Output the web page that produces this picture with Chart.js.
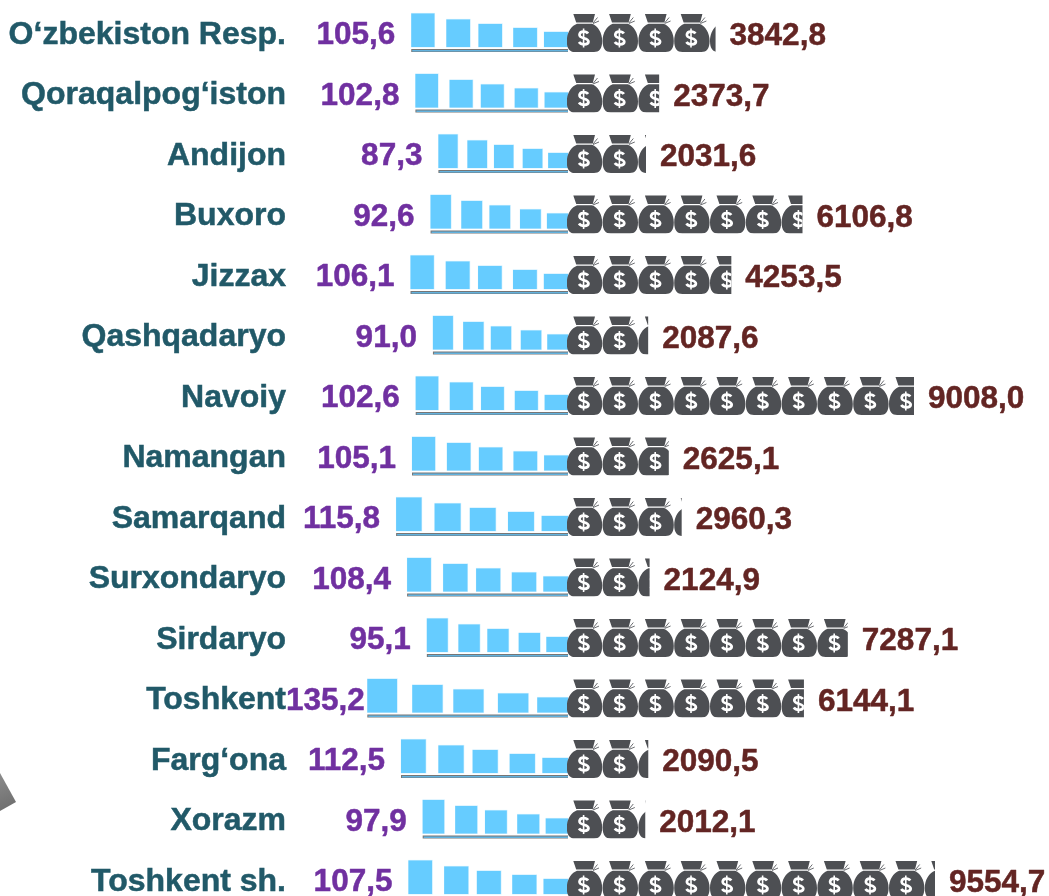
<!DOCTYPE html>
<html><head><meta charset="utf-8">
<style>html,body{margin:0;padding:0;background:#fff;overflow:hidden;width:1049px;height:896px}#w{width:1049px;height:896px;overflow:hidden}canvas{display:block}</style>
<script src="https://cdn.jsdelivr.net/npm/chart.js@4"></script>
</head><body><div id="w"><canvas id="c" width="1049" height="912"></canvas></div>
<script>
const regions = ["O‘zbekiston Resp.","Qoraqalpog‘iston","Andijon","Buxoro","Jizzax","Qashqadaryo","Navoiy","Namangan","Samarqand","Surxondaryo","Sirdaryo","Toshkent","Farg‘ona","Xorazm","Toshkent sh."];
const growth = [105.6,102.8,87.3,92.6,106.1,91.0,102.6,105.1,115.8,108.4,95.1,135.2,112.5,97.9,107.5];
const amount = [3842.8,2373.7,2031.6,6106.8,4253.5,2087.6,9008.0,2625.1,2960.3,2124.9,7287.1,6144.1,2090.5,2012.1,9554.7];

const FONT='bold 31.5px "Liberation Sans", Arial, sans-serif';
const fmt=v=>v.toFixed(1).replace('.',',');
const steps=[[0,.148,33.5],[.224,.375,27.5],[.429,.579,23],[.651,.802,19],[.847,1,15]];
const PITCH=35.8,TILE_H=38;
const bag=new Path2D("M6.3 0H28L25.8 8.6H9.2Z M10 9.8H25C31 12 35.2 19 35.2 27C35.2 35 32 38 27 38H8C3 38 -.2 35 -.2 27C-.2 19 4 12 10 9.8Z");
const tie=new Path2D("M26 9L30.5 3.5M26 9.5L32 7");
const dollar=new Path2D("M21 19.5C19.5 17 13 16.5 12.5 20.5C12 25.5 21.5 23 21.5 27.8C21 31.5 14 31 12 28");
const dollarBar=new Path2D("M16.6 14.5V33.5");
const picto={id:'picto',afterDatasetsDraw(ch){
  const g=ch.ctx;
  const L=ch.getDatasetMeta(0).data,R=ch.getDatasetMeta(1).data;
  g.save();
  const gr=g.createLinearGradient(0,775,14,808);gr.addColorStop(0,'#8a8a8a');gr.addColorStop(1,'#6e6e6e');
  g.fillStyle=gr;g.beginPath();g.moveTo(0,773);g.lineTo(16,802);g.lineTo(0,811);g.closePath();g.fill();
  L.forEach((e,i)=>{
    const top=e.y-19,len=e.base-e.x;
    steps.forEach(s=>{
      const a=e.x+len*s[0],b=e.x+len*s[1];
      g.fillStyle='#CDEEFF';g.fillRect(a-.2,top+33-s[2]-.6,b-a+.8,s[2]+1);
      g.fillStyle='#66CCFF';g.fillRect(a,top+33-s[2],b-a,s[2]);
    });
    g.fillStyle='#767676';g.fillRect(e.x,top+35,len,3);
    g.fillStyle='#62B2DE';g.fillRect(e.x+1,top+36,len-1,1.5);
  });
  R.forEach(e=>{
    const top=e.y-19,x0=e.base-1;
    g.save();g.beginPath();g.rect(x0,top-1,e.x-x0,TILE_H+1);g.clip();
    for(let x=x0;x<e.x;x+=PITCH){
      g.save();g.translate(x,top);
      g.fillStyle='#4D4F53';g.fill(bag);
      g.strokeStyle='#6a6c70';g.lineWidth=1;g.stroke(tie);
      g.strokeStyle='#fff';g.lineWidth=2.7;g.stroke(dollar);
      g.lineWidth=1.6;g.stroke(dollarBar);
      g.restore();
    }
    g.restore();
  });
  g.font=FONT;g.textBaseline='middle';g.lineWidth=.5;g.lineJoin='round';
  L.forEach((e,i)=>{
    const t=fmt(growth[i]),w=g.measureText(t).width,x=Math.max(e.x-16-w,286);
    g.fillStyle=g.strokeStyle='#7030A0';g.textAlign='left';
    g.fillText(t,x,e.y+2.5);g.strokeText(t,x,e.y+2.5);
  });
  R.forEach((e,i)=>{
    const t=fmt(amount[i]);
    g.fillStyle=g.strokeStyle='#632523';g.textAlign='left';
    g.fillText(t,e.x+14,e.y+3.5);g.strokeText(t,e.x+14,e.y+3.5);
  });
  g.restore();
}};
new Chart(document.getElementById('c'),{
  type:'bar',
  data:{labels:regions,datasets:[
    {data:growth,xAxisID:'xL',backgroundColor:'rgba(0,0,0,0)',barThickness:38},
    {data:amount,xAxisID:'xR',backgroundColor:'rgba(0,0,0,0)',barThickness:38}
  ]},
  options:{
    indexAxis:'y',responsive:false,animation:false,
    layout:{padding:{top:2.75,bottom:1.75,left:0,right:0}},
    datasets:{bar:{grouped:false}},
    plugins:{legend:{display:false},tooltip:{enabled:false},title:{display:false}},
    scales:{
      y:{type:'category',offset:true,grid:{display:false,drawTicks:false},border:{display:false},
         afterFit(s){s.width=290;s.paddingTop=0;s.paddingBottom=0;},
         ticks:{autoSkip:false,color:'#215968',textStrokeColor:'#215968',textStrokeWidth:.5,labelOffset:2,font:{family:'"Liberation Sans", Arial, sans-serif',size:32,weight:'bold'},padding:4}},
      xL:{type:'linear',display:false,reverse:true,min:-324.1,max:187.3,position:'bottom'},
      xR:{type:'linear',display:false,min:-7239.6,max:12526,position:'top'}
    }
  },
  plugins:[picto]
});
</script></body></html>
